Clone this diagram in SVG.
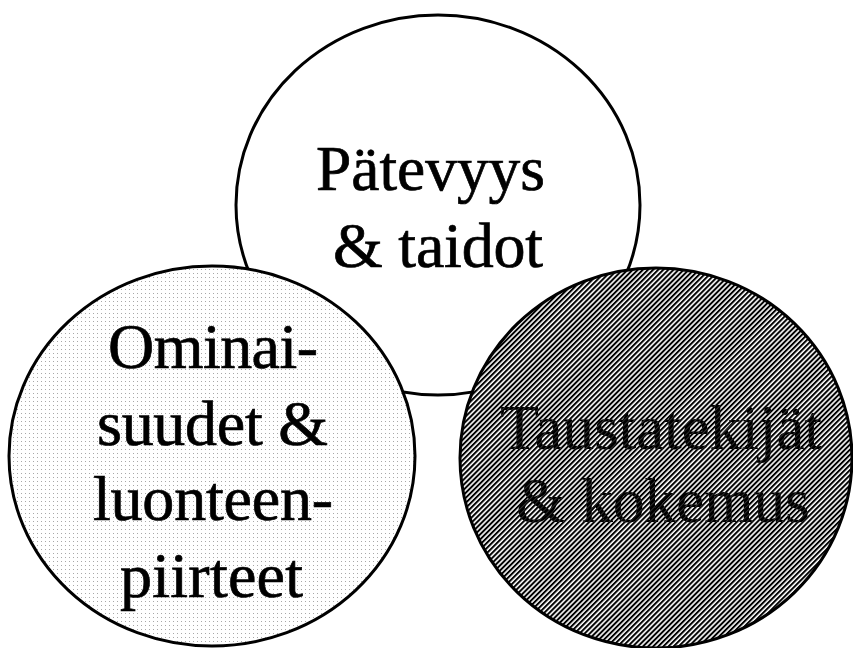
<svg xmlns="http://www.w3.org/2000/svg" width="853" height="648" viewBox="0 0 853 648">
<style>
.lbl{font-family:"Liberation Serif","Times New Roman",serif;font-size:64px;fill:#000;stroke:#000;stroke-width:0.7}
.dark{fill:url(#hatchdark);stroke:none}
.ring{stroke:#000;stroke-width:3}
</style>
<defs>
<pattern id="dots" width="4" height="4" patternUnits="userSpaceOnUse">
<rect width="4" height="4" fill="#fff"/>
<rect x="1" y="1" width="1" height="1" fill="#a8a8a8"/>
</pattern>
<pattern id="hatch" width="3.6" height="3.6" patternUnits="userSpaceOnUse" patternTransform="rotate(45)">
<rect width="3.6" height="3.6" fill="#fff"/>
<rect width="2" height="3.6" fill="#000"/>
</pattern>
<pattern id="hatchdark" width="3.6" height="3.6" patternUnits="userSpaceOnUse" patternTransform="rotate(45)">
<rect width="3.6" height="3.6" fill="#000"/>
<rect width="0.5" height="3.6" fill="#555"/>
</pattern>
</defs>
<g id="node-patevyys">
<ellipse class="ring" cx="438" cy="205" rx="202" ry="190" fill="#fff"/>
<text class="lbl" x="316" y="190" textLength="229" lengthAdjust="spacingAndGlyphs">Pätevyys</text>
<text class="lbl" x="333" y="267" textLength="210" lengthAdjust="spacing">&amp; taidot</text>
</g>
<g id="node-ominaisuudet">
<ellipse class="ring" cx="212" cy="456" rx="203" ry="190" fill="url(#dots)"/>
<text class="lbl" x="108" y="368" textLength="210" lengthAdjust="spacing">Ominai-</text>
<text class="lbl" x="97" y="445" textLength="231" lengthAdjust="spacing">suudet &amp;</text>
<text class="lbl" x="93" y="520" textLength="240" lengthAdjust="spacing">luonteen-</text>
<text class="lbl" x="120" y="597" textLength="183" lengthAdjust="spacing">piirteet</text>
</g>
<g id="node-taustatekijat">
<ellipse class="ring" cx="656" cy="458" rx="196" ry="190" fill="url(#hatch)"/>
<text class="lbl dark" x="500" y="449" textLength="322" lengthAdjust="spacing">Taustatekijät</text>
<text class="lbl dark" x="516" y="522" textLength="294" lengthAdjust="spacing">&amp; kokemus</text>
</g>
<g id="connectors"></g>
</svg>
